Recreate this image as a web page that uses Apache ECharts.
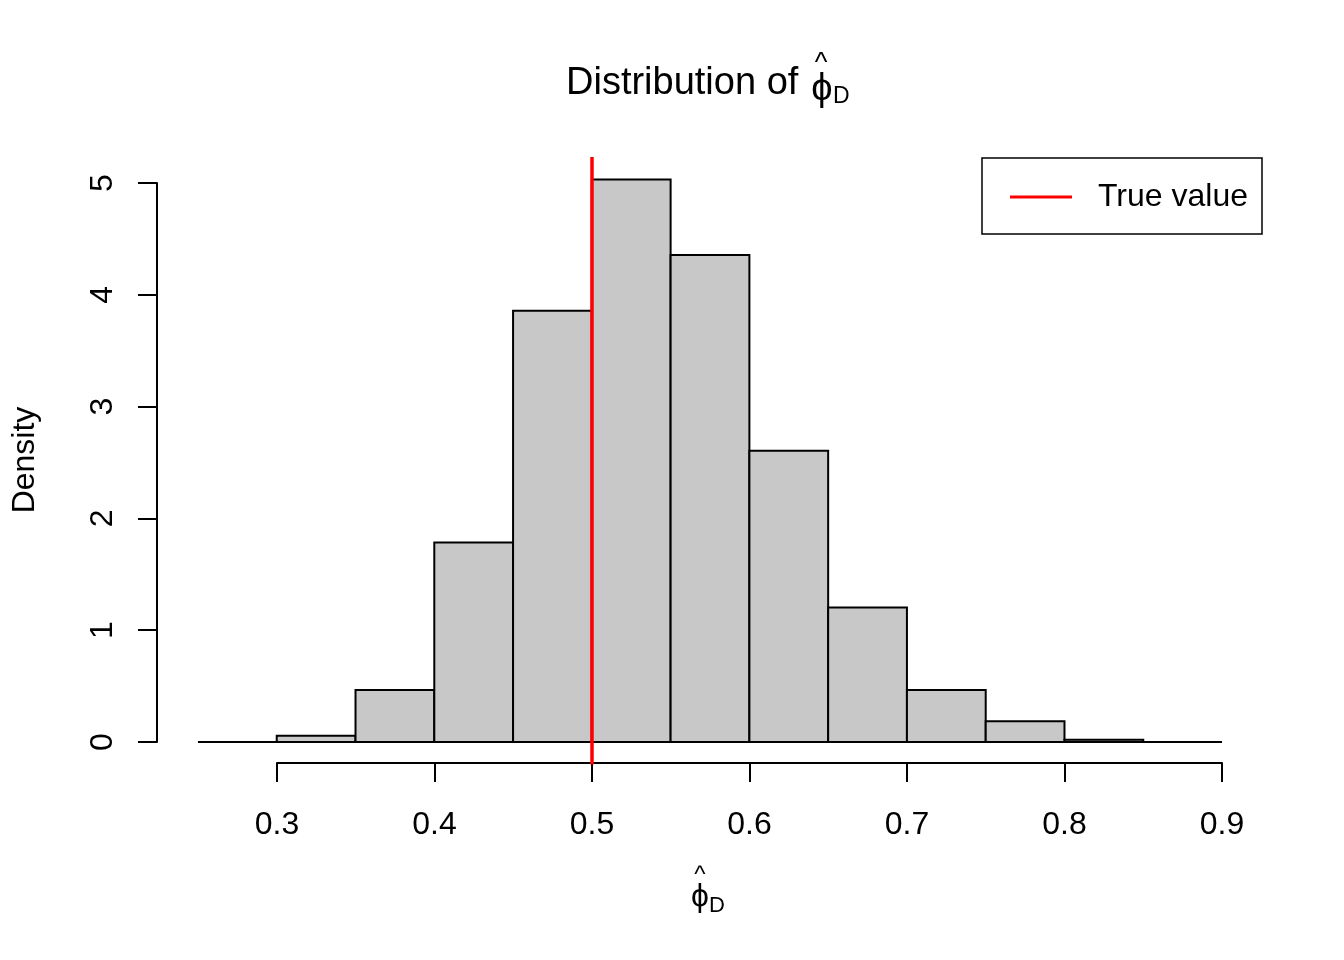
<!DOCTYPE html>
<html>
<head>
<meta charset="utf-8">
<script src="https://cdn.jsdelivr.net/npm/echarts@6/dist/echarts.min.js"></script>
<style>html,body{margin:0;padding:0;background:#fff}#c{width:1344px;height:960px}</style>
</head>
<body>
<div id="c"></div>
<script>
// Histogram data
var breaks = [0.25, 0.30, 0.35, 0.40, 0.45, 0.50, 0.55, 0.60, 0.65, 0.70, 0.75, 0.80, 0.85, 0.90];
var density = [0, 0.055, 0.465, 1.783, 3.855, 5.027, 4.353, 2.603, 1.201, 0.465, 0.185, 0.02, 0];
var trueValue = 0.5;
var xTicks = [0.3, 0.4, 0.5, 0.6, 0.7, 0.8, 0.9];
var yTicks = [0, 1, 2, 3, 4, 5];

var FONT = "'Liberation Sans', Arial, Helvetica, sans-serif";
var histData = [];
for (var i = 0; i < density.length; i++) histData.push([breaks[i], breaks[i + 1], density[i]]);

// R-style 4% axis extension
var xMin0 = breaks[0], xMax0 = breaks[breaks.length - 1];
var xr = xMax0 - xMin0;
var yMax0 = Math.max.apply(null, density);
var plotX = [xMin0 - 0.04 * xr, xMax0 + 0.04 * xr];
var plotY = [-0.04 * yMax0, yMax0 * 1.04];

var chart = echarts.init(document.getElementById('c'), null, {renderer: 'canvas'});
chart.setOption({
  animation: false,
  backgroundColor: '#fff',
  grid: [
    {left: 157, top: 157, width: 1106, height: 607.5},
    {left: 277, top: 157, width: 945, height: 606},
    {left: 157, top: 183, width: 1106, height: 559}
  ],
  xAxis: [
    {gridIndex: 0, type: 'value', min: plotX[0], max: plotX[1], show: false},
    {gridIndex: 1, type: 'value', min: xTicks[0], max: xTicks[xTicks.length - 1], interval: 0.1, position: 'bottom',
     axisLine: {show: true, onZero: false, lineStyle: {color: '#000', width: 2}},
     axisTick: {show: true, inside: false, length: 19, lineStyle: {color: '#000', width: 2}},
     axisLabel: {show: true, margin: 46, color: '#000', fontSize: 32, fontFamily: FONT,
       formatter: function (v) { return v.toFixed(1); }},
     splitLine: {show: false}},
    {gridIndex: 2, type: 'value', min: 0, max: 1, show: false}
  ],
  yAxis: [
    {gridIndex: 0, type: 'value', min: plotY[0], max: plotY[1], show: false},
    {gridIndex: 1, type: 'value', min: 0, max: 1, show: false},
    {gridIndex: 2, type: 'value', min: yTicks[0], max: yTicks[yTicks.length - 1], interval: 1, position: 'left',
     axisLine: {show: true, onZero: false, lineStyle: {color: '#000', width: 2}},
     axisTick: {show: true, inside: false, length: 19, lineStyle: {color: '#000', width: 2}},
     axisLabel: {show: true, rotate: 90, margin: 38, color: '#000', fontSize: 32, fontFamily: FONT},
     splitLine: {show: false}}
  ],
  legend: {
    show: true,
    left: 982, top: 158,
    orient: 'vertical',
    backgroundColor: '#fff',
    borderColor: '#000', borderWidth: 1.5, borderRadius: 0,
    padding: [23, 14, 21, 28],
    itemWidth: 62, itemHeight: 3,
    textStyle: {color: '#000', fontSize: 32, fontFamily: FONT, padding: [0, 0, 0, 21], lineHeight: 32},
    data: [{name: 'True value', icon: 'rect', itemStyle: {color: '#ff0000'}}]
  },
  series: [
    {
      type: 'custom', name: 'hist', xAxisIndex: 0, yAxisIndex: 0, silent: true,
      data: histData,
      encode: {x: [0, 1], y: 2},
      renderItem: function (params, api) {
        var p0 = api.coord([api.value(0), api.value(2)]);
        var p1 = api.coord([api.value(1), 0]);
        return {
          type: 'rect',
          shape: {x: p0[0], y: p0[1], width: p1[0] - p0[0], height: p1[1] - p0[1]},
          style: {fill: '#c8c8c8', stroke: '#000', lineWidth: 2}
        };
      },
      z: 2
    },
    {
      type: 'line', name: 'True value', xAxisIndex: 0, yAxisIndex: 0,
      data: [], itemStyle: {color: '#ff0000'}, lineStyle: {color: '#ff0000', width: 3},
      markLine: {
        silent: true, symbol: ['none', 'none'], label: {show: false},
        lineStyle: {color: '#ff0000', width: 3.5, type: 'solid'},
        data: [{xAxis: trueValue}]
      },
      z: 5
    }
  ],
  graphic: [
    // Title
    {type: 'text', x: 566, y: 84, z: 10,
     style: {text: 'Distribution of', font: '38px ' + FONT, fill: '#000', textAlign: 'left', textVerticalAlign: 'middle'}},
    {type: 'text', x: 822, y: 90, z: 10,
     style: {text: 'ϕ', font: '38px ' + FONT, fill: '#000', textAlign: 'center', textVerticalAlign: 'middle'}},
    {type: 'text', x: 821, y: 64, z: 10,
     style: {text: '^', font: '27px ' + FONT, fill: '#000', textAlign: 'center', textVerticalAlign: 'middle'}},
    {type: 'text', x: 833, y: 97, z: 10,
     style: {text: 'D', font: '23px ' + FONT, fill: '#000', textAlign: 'left', textVerticalAlign: 'middle'}},
    // X axis label
    {type: 'text', x: 700, y: 897, z: 10,
     style: {text: 'ϕ', font: '32px ' + FONT, fill: '#000', textAlign: 'center', textVerticalAlign: 'middle'}},
    {type: 'text', x: 700, y: 875, z: 10,
     style: {text: '^', font: '24px ' + FONT, fill: '#000', textAlign: 'center', textVerticalAlign: 'middle'}},
    {type: 'text', x: 709, y: 906, z: 10,
     style: {text: 'D', font: '22px ' + FONT, fill: '#000', textAlign: 'left', textVerticalAlign: 'middle'}},
    // Y axis label
    {type: 'text', x: 25, y: 460, rotation: Math.PI / 2, z: 10,
     style: {text: 'Density', font: '32px ' + FONT, fill: '#000', textAlign: 'center', textVerticalAlign: 'middle'}}
  ]
});
</script>
</body>
</html>
